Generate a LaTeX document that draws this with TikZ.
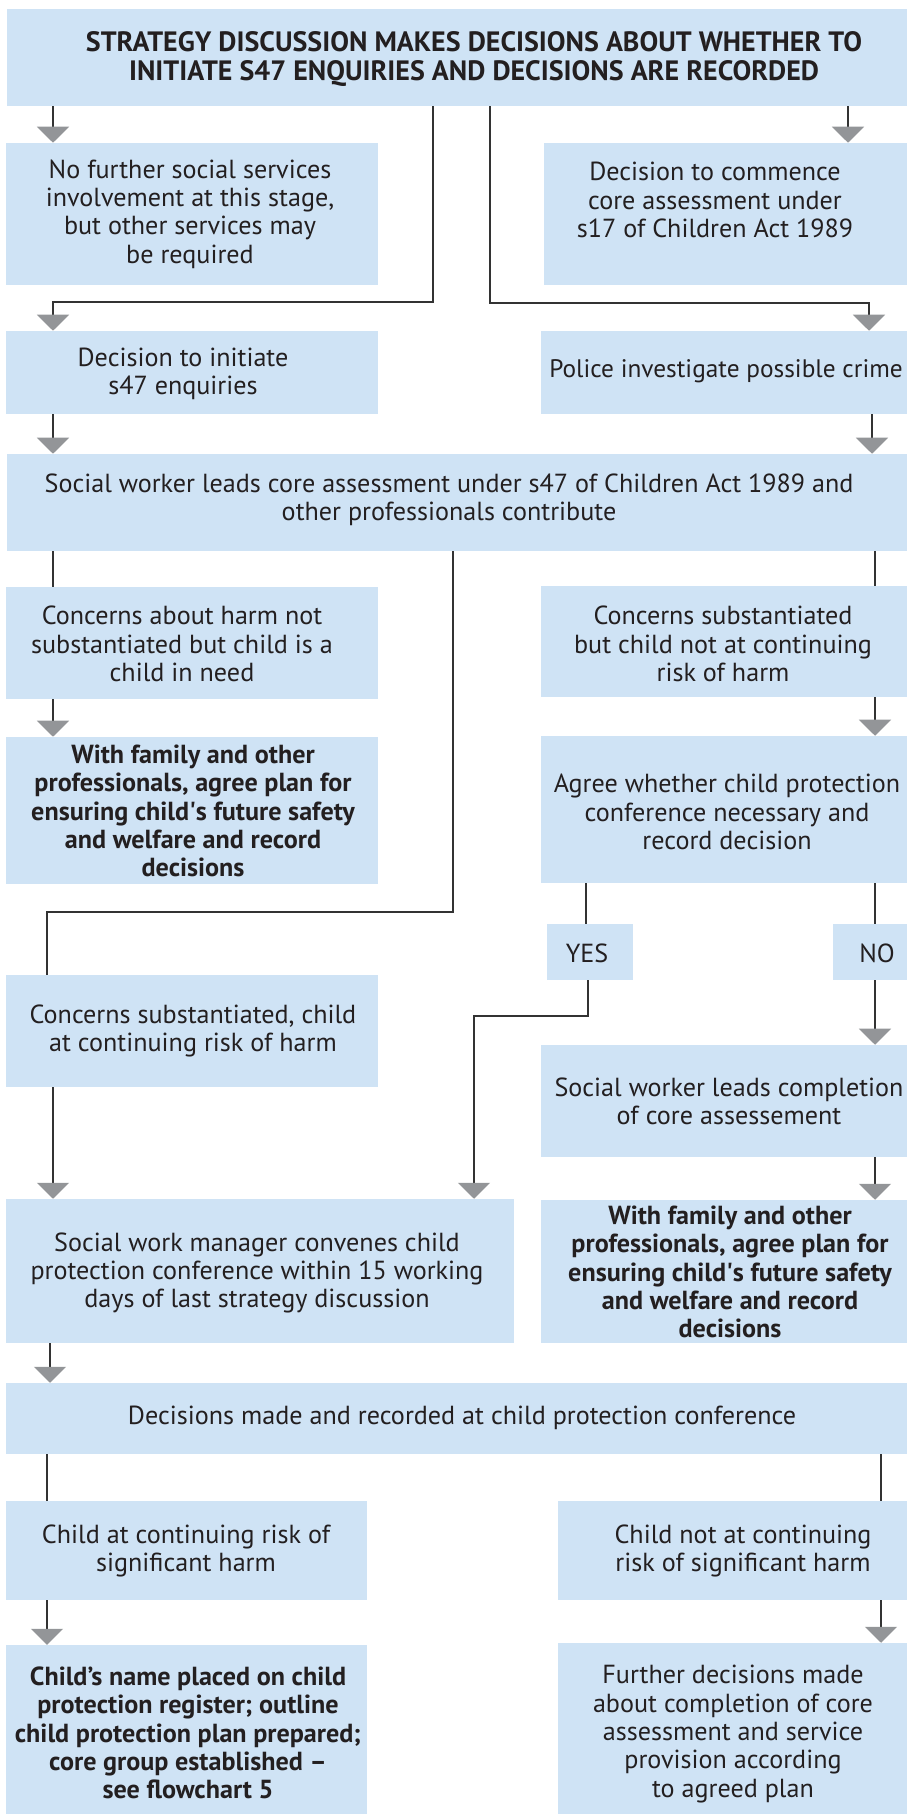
\documentclass[tikz,border=0pt]{standalone}
\usepackage{fontspec}
\setmainfont{PT Sans}
\usetikzlibrary{arrows.meta,fit}
\definecolor{boxblue}{RGB}{207,227,245}
\definecolor{tipgray}{RGB}{147,149,152}
\definecolor{linecol}{RGB}{51,51,51}
\definecolor{textcol}{RGB}{35,31,32}
\tikzset{
  box/.style={rectangle,fill=boxblue,draw=none,inner sep=0pt},
  txt/.style={align=center,inner sep=0pt,text=textcol,font=\fontsize{19.6pt}{21.2pt}\selectfont},
  btxt/.style={txt,font=\fontsize{19.6pt}{21.2pt}\selectfont\bfseries},
  ttxt/.style={txt,font=\fontsize{21pt}{21.2pt}\selectfont\bfseries},
  conn/.style={draw=linecol,line width=1pt},
  arr/.style={conn,-{Triangle[width=24pt,length=12pt,color=tipgray]}},
}
\begin{document}
\begin{tikzpicture}[x=0.75pt,y=-0.75pt]
\useasboundingbox (0,0) rectangle (907,1814);
% boxes
\node[box,fit={(7,9)(907,106)}] (title) {};
\node[box,fit={(6,143)(378,285)}] (nofurther) {};
\node[box,fit={(544,143)(907,285)}] (commence) {};
\node[box,fit={(6,331)(378,414)}] (initiate) {};
\node[box,fit={(541,331)(907,414)}] (police) {};
\node[box,fit={(7,454)(907,551)}] (swcore) {};
\node[box,fit={(6,587)(378,699)}] (harm) {};
\node[box,fit={(541,586)(907,697)}] (sub) {};
\node[box,fit={(6,737)(378,884)}] (famA) {};
\node[box,fit={(541,736)(907,883)}] (agree) {};
\node[box,fit={(547,924)(633,980)}] (yes) {};
\node[box,fit={(833,924)(907,980)}] (no) {};
\node[box,fit={(6,975)(378,1087)}] (risk) {};
\node[box,fit={(541,1045)(907,1157)}] (completion) {};
\node[box,fit={(6,1199)(514,1343)}] (manager) {};
\node[box,fit={(541,1200)(907,1343)}] (famB) {};
\node[box,fit={(6,1383)(907,1454)}] (decisions) {};
\node[box,fit={(6,1501)(367,1600)}] (childrisk) {};
\node[box,fit={(558,1501)(907,1600)}] (childnot) {};
\node[box,fit={(6,1645)(367,1814)}] (childname) {};
\node[box,fit={(558,1643)(907,1814)}] (further) {};
% texts
\node[ttxt] (title-t) at (474,59) {STRATEGY DISCUSSION MAKES DECISIONS ABOUT WHETHER TO\\INITIATE S47 ENQUIRIES AND DECISIONS ARE RECORDED};
\node[txt] (nofurther-t) at (190,214) {No further social services\\involvement at this stage,\\but other services may\\be required};
\node[txt] (commence-t) at (715,200) {Decision to commence\\core assessment under\\s17 of Children Act 1989};
\node[txt] (initiate-t) at (183,374) {Decision to initiate\\s47 enquiries};
\node[txt,font=\fontsize{19pt}{21.2pt}\selectfont] (police-t) at (726,371) {Police investigate possible crime};
\node[txt] (swcore-t) at (449,500) {Social worker leads core assessment under s47 of Children Act 1989 and\\other professionals contribute};
\node[txt] (harm-t) at (182,644) {Concerns about harm not\\substantiated but child is a\\child in need};
\node[txt] (sub-t) at (723,644) {Concerns substantiated\\but child not at continuing\\risk of harm};
\node[btxt] (famA-t) at (193,811) {With family and other\\professionals, agree plan for\\ensuring child\textquotesingle s future safety\\and welfare and record\\decisions};
\node[txt] (agree-t) at (727,812) {Agree whether child protection\\conference necessary and\\record decision};
\node[txt] (yes-t) at (587,953) {YES};
\node[txt] (no-t) at (877,953) {NO};
\node[txt] (risk-t) at (193,1031) {Concerns substantiated, child\\at continuing risk of harm};
\node[txt] (completion-t) at (729,1101) {Social worker leads completion\\of core assessement};
\node[txt] (manager-t) at (257,1273) {Social work manager convenes child\\protection conference within 15 working\\days of last strategy discussion};
\node[btxt] (famB-t) at (730,1272) {With family and other\\professionals, agree plan for\\ensuring child\textquotesingle s future safety\\and welfare and record\\decisions};
\node[txt] (decisions-t) at (462,1418) {Decisions made and recorded at child protection conference};
\node[txt] (childrisk-t) at (186,1551) {Child at continuing risk of\\significant harm};
\node[txt] (childnot-t) at (743,1551) {Child not at continuing\\risk of significant harm};
\node[btxt] (childname-t) at (188,1733) {Child’s name placed on child\\protection register; outline\\child protection plan prepared;\\core group established –\\see flowchart 5};
\node[txt] (further-t) at (733,1734) {Further decisions made\\about completion of core\\assessment and service\\provision according\\to agreed plan};
% column coordinates
\coordinate (xA) at (53,0);
\coordinate (xB) at (848,0);
\coordinate (xC) at (433,0);
\coordinate (xD) at (490,0);
\coordinate (xE) at (869,0);
\coordinate (xF) at (872,0);
\coordinate (xG) at (875,0);
\coordinate (xH) at (453,0);
\coordinate (xI) at (47,0);
\coordinate (xJ) at (588,0);
\coordinate (xK) at (474,0);
\coordinate (xL) at (50,0);
\coordinate (xM) at (881,0);
\coordinate (xN) at (586,0);
\coordinate (yA) at (0,302);
\coordinate (yB) at (0,303);
\coordinate (yC) at (0,912);
\coordinate (yD) at (0,1016);
% connectors
\draw[arr] (title.south -| xA) -- (nofurther.north -| xA);
\draw[arr] (title.south -| xB) -- (commence.north -| xB);
\draw[arr] (title.south -| xC) -- (xC |- yA) -- (xA |- yA) -- (initiate.north -| xA);
\draw[arr] (title.south -| xD) -- (xD |- yB) -- (xE |- yB) -- (police.north -| xE);
\draw[arr] (initiate.south -| xA) -- (swcore.north -| xA);
\draw[arr] (police.south -| xF) -- (swcore.north -| xF);
\draw[conn] (swcore.south -| xA) -- (harm.north -| xA);
\draw[conn] (swcore.south -| xG) -- (sub.north -| xG);
\draw[arr] (harm.south -| xA) -- (famA.north -| xA);
\draw[arr] (sub.south -| xG) -- (agree.north -| xG);
\draw[conn] (swcore.south -| xH) -- (xH |- yC) -- (xI |- yC) -- (risk.north -| xI);
\draw[conn] (agree.south -| xN) -- (yes.north -| xN);
\draw[conn] (agree.south -| xG) -- (no.north -| xG);
\draw[arr] (yes.south -| xJ) -- (xJ |- yD) -- (xK |- yD) -- (manager.north -| xK);
\draw[arr] (no.south -| xG) -- (completion.north -| xG);
\draw[arr] (completion.south -| xG) -- (famB.north -| xG);
\draw[arr] (risk.south -| xA) -- (manager.north -| xA);
\draw[arr] (manager.south -| xL) -- (decisions.north -| xL);
\draw[conn] (decisions.south -| xI) -- (childrisk.north -| xI);
\draw[conn] (decisions.south -| xM) -- (childnot.north -| xM);
\draw[arr] (childrisk.south -| xI) -- (childname.north -| xI);
\draw[arr] (childnot.south -| xM) -- (further.north -| xM);
\end{tikzpicture}
\end{document}
